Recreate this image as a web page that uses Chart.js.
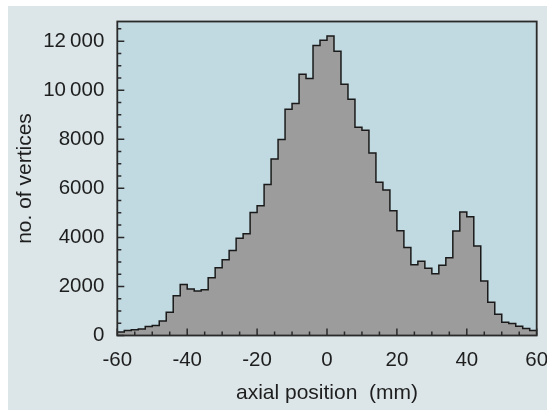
<!DOCTYPE html>
<html>
<head>
<meta charset="utf-8">
<script src="https://cdn.jsdelivr.net/npm/chart.js@4/dist/chart.umd.min.js"></script>
<style>
  html, body { margin: 0; padding: 0; background: #ffffff; }
  #wrap { position: absolute; left: 8px; top: 6px; width: 539px; height: 404px; background: #dce6e8; }
</style>
</head>
<body>
<div id="wrap"><canvas id="hist" width="539" height="404"></canvas></div>
<script>
// histogram of vertex axial positions, 2 mm bins from -60 to 60 mm
const binStart = -60;
const binWidth = 2;
const counts = [
  140, 200, 230, 270, 370, 410, 590, 950, 1620, 2080,
  1900, 1810, 1860, 2350, 2760, 3090, 3460, 3960, 4150, 5010,
  5290, 6160, 7200, 7990, 9220, 9460, 10650, 10480, 11820, 12040,
  12210, 11590, 10240, 9630, 8490, 8370, 7440, 6250, 5930, 5090,
  4270, 3590, 2880, 3030, 2740, 2520, 2860, 3170, 4260, 5030,
  4840, 3650, 2220, 1360, 870, 540, 490, 380, 290, 200
];
const xTicks = [-60, -40, -20, 0, 20, 40, 60];
const yTicks = [0, 2000, 4000, 6000, 8000, 10000, 12000];
const yTickLabels = ["0", "2000", "4000", "6000", "8000", "10\u2009000", "12\u2009000"];

const points = counts.map((c, i) => ({ x: binStart + i * binWidth, y: c }));
points.push({ x: binStart + counts.length * binWidth, y: counts[counts.length - 1] });

const textColor = "#1e1e1e";
const tickFont = { family: "Liberation Sans, Arial, sans-serif", size: 20.5 };
const titleFont = { family: "Liberation Sans, Arial, sans-serif", size: 21 };

const plotArea = {
  id: "plotArea",
  beforeDraw(chart) {
    const { ctx, chartArea: a } = chart;
    ctx.save();
    ctx.fillStyle = "#c1d9e0";
    ctx.fillRect(a.left, a.top, a.right - a.left, a.bottom - a.top);
    ctx.restore();
  },
  afterDraw(chart) {
    const { ctx, chartArea: a } = chart;
    const xs = chart.scales.x, ys = chart.scales.y;
    ctx.save();
    ctx.strokeStyle = "#2a2a2a";
    ctx.lineWidth = 1.5;
    ctx.beginPath();
    for (let v = -60; v <= 60; v += 5) {
      const px = xs.getPixelForValue(v);
      const len = v % 20 === 0 ? 7 : 4;
      ctx.moveTo(px, a.bottom);
      ctx.lineTo(px, a.bottom - len);
    }
    for (let v = 0; v <= 12800; v += 500) {
      const py = ys.getPixelForValue(v);
      const len = v % 2000 === 0 ? 7 : 4;
      ctx.moveTo(a.left, py);
      ctx.lineTo(a.left + len, py);
    }
    ctx.stroke();
    ctx.lineWidth = 1.8;
    ctx.strokeRect(a.left, a.top, a.right - a.left, a.bottom - a.top);
    ctx.restore();
  }
};

new Chart(document.getElementById("hist"), {
  type: "line",
  data: {
    datasets: [{
      data: points,
      stepped: true,
      borderColor: "#1a1a1a",
      borderWidth: 1.5,
      backgroundColor: "#9c9c9c",
      fill: "origin",
      pointRadius: 0,
      tension: 0
    }]
  },
  options: {
    responsive: false,
    animation: false,
    events: [],
    layout: { padding: { left: 0, right: 10.3, top: 15.5, bottom: 0 } },
    plugins: { legend: { display: false }, tooltip: { enabled: false } },
    scales: {
      x: {
        type: "linear",
        min: -60,
        max: 60,
        grid: { display: false },
        border: { display: false },
        afterBuildTicks(scale) { scale.ticks = xTicks.map(v => ({ value: v })); },
        afterFit(scale) {
          scale.height = 74.5;
          scale.paddingLeft = 0;
          scale.paddingRight = 0;
        },
        ticks: {
          color: textColor,
          font: tickFont,
          padding: 5,
          maxRotation: 0,
          autoSkip: false,
          callback: v => String(v)
        },
        title: {
          display: true,
          text: "axial position  (mm)",
          color: textColor,
          font: titleFont,
          padding: { top: 6 }
        }
      },
      y: {
        min: 0,
        max: 12800,
        grid: { display: false },
        border: { display: false },
        afterBuildTicks(scale) { scale.ticks = yTicks.map(v => ({ value: v })); },
        afterFit(scale) {
          scale.width = 109.3;
          scale.paddingTop = 0;
          scale.paddingBottom = 0;
        },
        ticks: {
          color: textColor,
          font: tickFont,
          padding: 5,
          autoSkip: false,
          callback: (v, i) => yTickLabels[i]
        },
        title: {
          display: true,
          text: "no. of vertices",
          color: textColor,
          font: titleFont,
          padding: { top: 5, bottom: 6 }
        }
      }
    }
  },
  plugins: [plotArea]
});
</script>
</body>
</html>
